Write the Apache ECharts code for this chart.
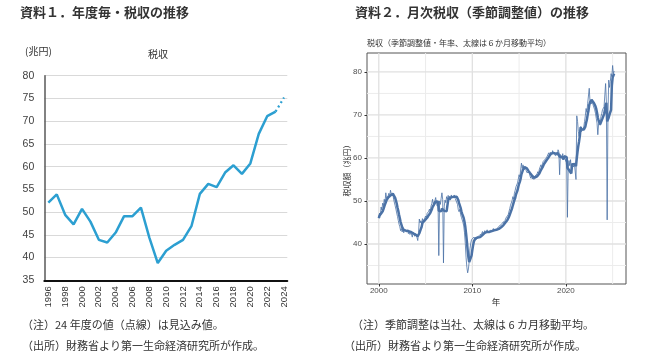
<!DOCTYPE html>
<html><head><meta charset="utf-8">
<script src="https://cdn.jsdelivr.net/npm/echarts@6/dist/echarts.min.js"></script>
<style>html,body{margin:0;padding:0;background:#fff}#c{width:652px;height:356px}</style>
</head><body><div id="c"></div>
<script>
// ---- Chart 1: fiscal-year tax revenue (trillion yen) ----
const fiscalYears = [1996,1997,1998,1999,2000,2001,2002,2003,2004,2005,2006,2007,2008,2009,2010,2011,2012,2013,2014,2015,2016,2017,2018,2019,2020,2021,2022,2023,2024];
const annualTax = [52.1,53.9,49.4,47.3,50.7,47.9,43.9,43.3,45.5,49.1,49.1,51.0,44.4,38.8,41.5,42.8,43.9,46.9,54.0,56.2,55.5,58.7,60.3,58.4,60.7,67.2,71.1,72.1,75.2];
const projectedFromYear = 2023; // dotted segment from here (2024 = estimate)
const yearTickLabels = [1996,1998,2000,2002,2004,2006,2008,2010,2012,2014,2016,2018,2020,2022,2024];

// ---- Chart 2: monthly tax revenue, seasonally adjusted annual rate ----
const monthlyStartYear = 2000; // Jan 2000
const monthlyTax = [
46.0,47.2,46.6,48.6,47.9,49.5,48.9,50.4,49.7,51.9,50.6,50.9,
51.2,51.8,50.9,52.5,51.7,51.2,51.8,50.4,50.0,48.9,48.1,47.2,
46.4,45.5,44.6,44.0,43.1,43.6,42.8,43.5,42.6,43.2,42.9,43.4,
42.8,43.3,42.4,43.0,42.2,42.9,42.5,41.6,42.8,42.3,41.8,42.4,
42.0,41.5,40.8,42.6,45.8,44.9,45.4,44.6,45.9,45.3,45.7,46.0,
46.5,46.0,47.1,46.7,47.6,48.1,47.5,48.8,49.4,50.4,49.3,49.6,
50.1,50.8,49.5,48.8,49.9,37.3,50.0,49.2,50.6,51.9,50.3,35.6,
48.8,50.2,49.6,51.0,50.4,51.3,50.6,51.1,50.2,51.4,50.8,51.2,
50.9,51.4,50.6,50.7,51.0,49.2,48.0,47.5,48.1,46.8,46.2,45.6,
45.0,44.2,42.6,40.1,36.8,34.6,33.3,34.2,36.0,38.9,40.2,41.0,
41.3,40.8,41.6,41.2,41.8,41.0,41.5,41.9,41.3,42.0,41.6,42.2,
42.4,42.9,42.3,42.7,43.1,42.5,42.9,43.3,42.6,43.0,42.7,43.2,
42.9,43.4,43.0,43.6,43.1,43.5,42.9,43.4,43.2,43.8,44.1,43.7,
44.0,44.5,44.2,44.8,45.2,44.7,45.5,46.0,46.4,45.9,46.8,47.2,
48.2,49.0,48.6,50.1,51.0,50.4,51.8,52.5,53.3,53.0,54.2,55.1,
56.1,55.5,57.2,58.8,57.6,58.4,58.0,57.3,57.9,57.1,56.6,56.8,
56.2,56.7,55.8,55.3,55.9,55.1,55.6,55.0,55.7,56.0,55.4,56.3,
56.8,56.3,57.4,57.9,58.4,57.8,58.7,59.2,59.5,58.9,59.8,60.2,
60.4,60.7,61.2,60.6,61.3,61.5,60.8,61.7,61.0,60.7,61.4,60.5,
61.2,60.6,61.9,61.4,56.1,60.8,60.7,60.1,61.0,59.6,60.4,60.8,
59.2,60.1,46.2,57.7,59.4,58.2,59.6,57.3,58.8,59.1,57.9,58.6,
58.9,55.0,69.8,68.5,66.2,65.0,66.4,67.3,66.1,66.5,65.8,67.2,
68.5,69.8,71.5,70.6,72.7,73.1,76.2,73.0,73.5,72.6,73.2,72.3,
72.0,71.2,70.4,69.2,68.1,65.4,68.0,68.5,67.6,69.6,70.3,71.2,
70.8,71.9,72.3,77.3,73.0,45.6,70.0,78.1,76.4,77.7,79.6,78.9,
81.5,79.6,80.2
];
const movingAvg6 = [
46.0,46.6,46.6,47.1,47.3,47.6,48.1,48.7,49.2,49.7,50.2,50.4,
50.8,51.0,51.2,51.3,51.5,51.6,51.7,51.4,51.3,50.7,50.1,49.4,
48.5,47.7,46.8,46.0,45.1,44.5,43.9,43.6,43.3,43.1,43.1,43.1,
43.1,43.0,43.0,43.0,42.9,42.8,42.7,42.4,42.5,42.4,42.3,42.2,
42.2,42.1,41.8,41.9,42.5,42.9,43.5,44.0,44.9,45.3,45.3,45.5,
45.7,45.9,46.1,46.3,46.7,47.0,47.2,47.6,48.0,48.6,48.9,49.2,
49.6,49.9,50.0,49.7,49.8,47.7,47.7,47.5,47.6,48.2,48.2,47.9,
47.7,47.9,47.7,47.6,47.6,50.2,50.5,50.7,50.8,50.8,50.9,50.9,
50.9,51.0,51.1,50.9,51.0,50.6,50.2,49.5,49.1,48.4,47.6,47.0,
46.5,46.0,45.1,44.0,42.4,40.6,38.6,36.9,35.8,35.6,36.2,37.3,
38.6,39.7,40.6,41.0,41.3,41.3,41.3,41.5,41.5,41.6,41.6,41.8,
41.9,42.1,42.2,42.4,42.6,42.7,42.7,42.8,42.9,42.9,42.8,43.0,
43.0,43.0,43.0,43.1,43.2,43.3,43.3,43.3,43.3,43.3,43.5,43.5,
43.7,43.9,44.1,44.2,44.4,44.6,44.8,45.1,45.4,45.6,45.9,46.3,
46.8,47.3,47.6,48.3,49.0,49.6,50.2,50.7,51.5,52.0,52.5,53.3,
54.0,54.5,55.2,56.2,56.7,57.3,57.6,57.9,58.0,57.7,57.6,57.3,
57.0,56.9,56.5,56.2,56.1,55.8,55.7,55.5,55.4,55.6,55.5,55.7,
55.9,56.1,56.4,56.7,57.2,57.4,57.8,58.2,58.6,58.8,59.0,59.4,
59.7,59.9,60.2,60.5,60.7,61.0,61.0,61.2,61.2,61.2,61.2,61.0,
61.1,60.9,61.1,61.2,60.3,60.3,60.3,60.2,60.0,59.7,60.4,60.4,
60.2,60.2,57.7,57.4,57.2,56.8,56.9,56.4,58.5,58.7,58.5,58.6,
58.4,58.1,59.9,61.5,62.8,63.9,65.2,67.2,66.6,66.3,66.2,66.6,
66.9,67.3,68.2,68.9,70.1,71.0,72.3,72.9,73.2,73.5,73.6,73.5,
72.8,72.5,72.0,71.4,70.5,69.4,68.7,68.3,67.8,67.9,68.2,69.2,
69.7,70.2,71.0,72.3,72.8,68.5,68.4,69.4,70.1,70.1,71.2,76.8,
78.7,79.0,79.6
];
const rightXMajor = [2000,2010,2020];
const rightXMinor = [2005,2015,2025];
const rightYMajor = [40,50,60,70,80];
const rightYMinor = [35,45,55,65,75];

// ---- build ----
const JP = '"Noto Sans CJK JP", sans-serif';
const NUM = '"Liberation Sans", Arial, sans-serif';
const solid = [], dotted = [];
fiscalYears.forEach((y, i) => {
  if (y <= projectedFromYear) solid.push([y, annualTax[i]]);
  if (y >= projectedFromYear) dotted.push([y, annualTax[i]]);
});
const tMonth = i => monthlyStartYear + i / 12;
const thinData = monthlyTax.map((v, i) => [tMonth(i), v]);
const thickData = movingAvg6.map((v, i) => [tMonth(i), v]);

const RX = [1998.74, 2026.43], RY = [30.7, 84.4];
const blue = '#4b72a6';

function txt(x, y, text, size, opts) {
  opts = opts || {};
  return {type: 'text', x: x, y: y, rotation: opts.rot || 0, z: 100,
    style: {text: text, font: (opts.bold ? 'bold ' : '') + size + 'px ' + (opts.font || JP),
      fill: opts.color || '#333', align: opts.align || 'left', verticalAlign: 'middle'}};
}
// panel grid lines for chart 2, one helper line series per tick value, spanning the axis range
function gridLineSeries(xs, ys, color, width) {
  const out = [];
  const mk = data => ({type: 'line', xAxisIndex: 1, yAxisIndex: 1, data: data, z: 1, silent: true,
    showSymbol: false, symbol: 'none', lineStyle: {color: color, width: width}, emphasis: {disabled: true}});
  xs.forEach(v => out.push(mk([[v, RY[0]], [v, RY[1]]])));
  ys.forEach(v => out.push(mk([[RX[0], v], [RX[1], v]])));
  return out;
}

const chart = echarts.init(document.getElementById('c'), null, {renderer: 'canvas'});
chart.setOption({
  animation: false,
  backgroundColor: '#fff',
  grid: [
    {left: 44.3, top: 75.7, width: 243, height: 204.6},
    {left: 367, top: 53, width: 259, height: 231, show: true, borderColor: '#555', borderWidth: 1, backgroundColor: 'transparent'}
  ],
  xAxis: [
    {gridIndex: 0, type: 'value', min: 1995.52, max: 2024.39,
     axisLine: {show: true, onZero: false, lineStyle: {color: '#111', width: 2}},
     axisTick: {show: false}, splitLine: {show: false},
     axisLabel: {customValues: yearTickLabels, rotate: 90, fontSize: 9.5, color: '#333', fontFamily: NUM, margin: 6, formatter: v => String(v)}},
    {gridIndex: 1, type: 'value', min: RX[0], max: RX[1],
     axisLine: {show: false},
     axisTick: {show: true, customValues: rightXMajor, length: 2.5, lineStyle: {color: '#333'}},
     axisLabel: {customValues: rightXMajor, fontSize: 8, color: '#4d4d4d', fontFamily: NUM, margin: 3, formatter: v => String(v)},
     splitLine: {show: false}}
  ],
  yAxis: [
    {gridIndex: 0, type: 'value', min: 35, max: 80, interval: 5,
     axisLine: {show: true, lineStyle: {color: '#595959', width: 1.5}},
     axisTick: {show: false},
     axisLabel: {fontSize: 10.5, color: '#404040', fontFamily: NUM, margin: 10},
     splitLine: {lineStyle: {color: '#d9d9d9', width: 1}}},
    {gridIndex: 1, type: 'value', min: RY[0], max: RY[1],
     axisLine: {show: false},
     axisTick: {show: true, customValues: rightYMajor, length: 2.5, lineStyle: {color: '#333'}},
     axisLabel: {customValues: rightYMajor, fontSize: 8, color: '#4d4d4d', fontFamily: NUM, margin: 5},
     splitLine: {show: false}}
  ],
  series: [].concat(
    gridLineSeries(rightXMinor, rightYMinor, '#ececec', 1),
    gridLineSeries(rightXMajor, rightYMajor, '#e0e0e0', 1.3),
    [
    {type: 'line', xAxisIndex: 0, yAxisIndex: 0, data: solid, showSymbol: false,
     lineStyle: {color: '#2c9fd1', width: 2.5}},
    {type: 'line', xAxisIndex: 0, yAxisIndex: 0, data: dotted, showSymbol: false,
     lineStyle: {color: '#2c9fd1', width: 2.2, type: [2, 3]}},
    {type: 'line', xAxisIndex: 1, yAxisIndex: 1, data: thinData, showSymbol: false, z: 3,
     lineStyle: {color: blue, width: 1, opacity: 0.8}},
    {type: 'line', xAxisIndex: 1, yAxisIndex: 1, data: thickData, showSymbol: false, z: 3,
     lineStyle: {color: blue, width: 2.5}}
    ]),
  graphic: [
    txt(20, 12, '資料１．年度毎・税収の推移', 13, {bold: true}),
    txt(355, 12, '資料２．月次税収（季節調整値）の推移', 13, {bold: true}),
    txt(25, 51, '(兆円)', 10),
    txt(158, 54, '税収', 10, {align: 'center'}),
    txt(367, 43, '税収（季節調整値・年率、太線は６か月移動平均）', 8),
    txt(346.5, 168.5, '税収額（兆円）', 8, {rot: Math.PI / 2, align: 'center', color: '#333'}),
    txt(496, 301.5, '年', 8.5, {align: 'center'}),
    txt(22, 325, '（注）24 年度の値（点線）は見込み値。', 11),
    txt(22, 346, '（出所）財務省より第一生命経済研究所が作成。', 11),
    txt(352, 325, '（注）季節調整は当社、太線は 6 カ月移動平均。', 11),
    txt(344, 346, '（出所）財務省より第一生命経済研究所が作成。', 11)
  ]
});
</script>
</body></html>
